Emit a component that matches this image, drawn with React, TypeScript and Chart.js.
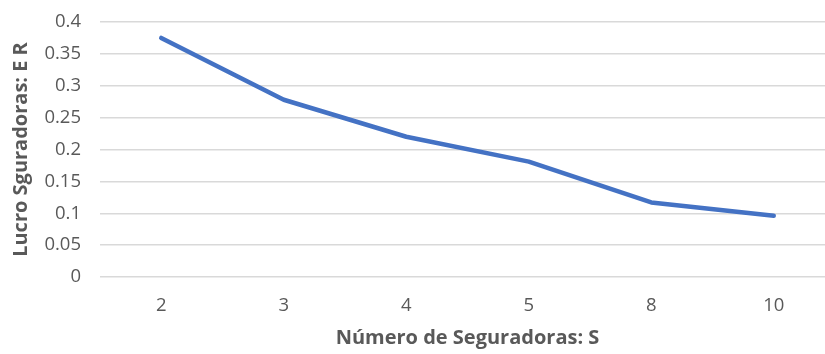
import React, { useEffect, useRef } from "react";
import { Chart, registerables } from "chart.js";

Chart.register(...registerables);

const categories = ["2", "3", "4", "5", "8", "10"];
const lucroValues = [0.375, 0.278, 0.22, 0.181, 0.117, 0.096];
const xTitle = "Número de Seguradoras: S";
const yTitle = "Lucro Sguradoras: E R";

export default function App() {
  const ref = useRef<HTMLCanvasElement | null>(null);
  useEffect(() => {
    if (!ref.current) return;
    const font = "'Open Sans', sans-serif";
    const chart = new Chart(ref.current, {
      type: "line",
      data: {
        labels: categories,
        datasets: [
          {
            data: lucroValues,
            borderColor: "#4472C4",
            borderWidth: 4.5,
            pointRadius: 0,
            tension: 0,
            borderCapStyle: "round",
            borderJoinStyle: "round",
            fill: false,
          },
        ],
      },
      options: {
        animation: false,
        responsive: false,
        maintainAspectRatio: false,
        layout: { padding: { top: 22, right: 10, left: 9, bottom: 4 } },
        plugins: { legend: { display: false }, tooltip: { enabled: false } },
        scales: {
          x: {
            offset: true,
            afterFit: (s: any) => {
              s.height = 73;
            },
            grid: { display: false, drawTicks: false, offset: true },
            border: { display: false },
            ticks: { color: "#595959", font: { family: font, size: 18.5 }, padding: 18 },
            title: {
              display: true,
              text: xTitle,
              color: "#595959",
              font: { family: font, size: 20, weight: "bold" },
              padding: { top: 0, bottom: 0 },
            },
          },
          y: {
            min: 0,
            max: 0.4,
            afterFit: (s: any) => {
              s.width = 91;
            },
            grid: {
              color: "#d9d9d9",
              lineWidth: 1.5,
              drawTicks: true,
              tickLength: 15,
              tickColor: "rgba(0,0,0,0)",
            },
            border: { display: false },
            ticks: {
              stepSize: 0.05,
              color: "#595959",
              font: { family: font, size: 18.5 },
              padding: 4,
              callback: (v: any) => String(Math.round(Number(v) * 100) / 100),
            },
            title: {
              display: true,
              text: yTitle,
              color: "#595959",
              font: { family: font, size: 20, weight: "bold" },
              padding: { top: 0, bottom: 0 },
            },
          },
        },
      },
    });
    return () => chart.destroy();
  }, []);
  return (
    <div style={{ position: "fixed", left: 0, top: 0, width: 825, height: 354, overflow: "hidden", background: "#fff" }}>
      <canvas ref={ref} width={845} height={354} style={{ display: "block", width: 845, height: 354 }} />
    </div>
  );
}
